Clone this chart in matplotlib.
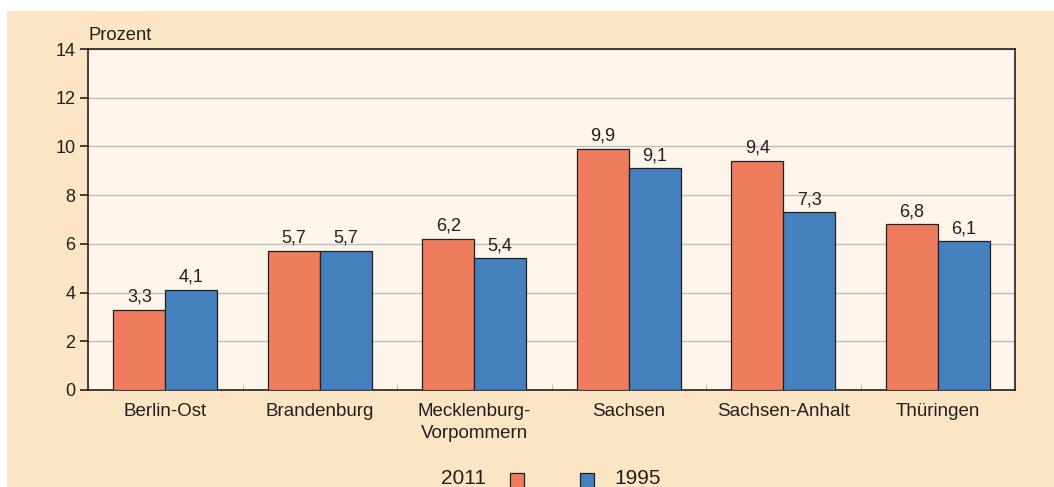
import matplotlib
matplotlib.use("Agg")
import matplotlib.pyplot as plt
import numpy as np
from matplotlib.patches import Rectangle

categories = ["Berlin-Ost", "Brandenburg", "Mecklenburg-\nVorpommern", "Sachsen", "Sachsen-Anhalt", "Thüringen"]
values_2011 = [3.3, 5.7, 6.2, 9.9, 9.4, 6.8]
values_1995 = [4.1, 5.7, 5.4, 9.1, 7.3, 6.1]
yticks = [0, 2, 4, 6, 8, 10, 12, 14]

c2011 = "#ef7d5d"
c1995 = "#4480be"
bg_outer = "#fbe5c5"
bg_plot = "#fdf5ea"
txt = "#231f20"

plt.rcParams['font.family'] = ['Liberation Sans', 'DejaVu Sans']

fig = plt.figure(figsize=(10.54, 4.87), dpi=100)
fig.patch.set_facecolor("white")
fig.add_artist(Rectangle((7/1054, 0), 1 - 7/1054, 1 - 11/487, transform=fig.transFigure,
                         facecolor=bg_outer, edgecolor="none", zorder=-10))

W, H = 1054, 487
left, right, top, bottom = 88, 1015, 49, 390
ax = fig.add_axes([left / W, 1 - bottom / H, (right - left) / W, (bottom - top) / H])
ax.set_facecolor(bg_plot)

x = np.arange(len(categories))
bw = 0.335
b1 = ax.bar(x - bw / 2, values_2011, bw, color=c2011, edgecolor=txt, linewidth=0.9, zorder=3)
b2 = ax.bar(x + bw / 2, values_1995, bw, color=c1995, edgecolor=txt, linewidth=0.9, zorder=3)

for bars, vals in ((b1, values_2011), (b2, values_1995)):
    for r, v in zip(bars, vals):
        ax.annotate(f"{v:.1f}".replace(".", ","), (r.get_x() + r.get_width() / 2, v),
                    xytext=(0, 3), textcoords="offset points",
                    ha="center", va="bottom", fontsize=13, color=txt)

ax.set_xlim(-0.5, len(categories) - 0.5)
ax.set_ylim(0, 14)
ax.set_yticks(yticks)
ax.set_yticklabels([str(t) for t in yticks], fontsize=13, color=txt)
ax.yaxis.grid(True, color="#bdbdc2", linewidth=1, zorder=0)
ax.set_axisbelow(True)
ax.tick_params(axis="y", length=6, width=1.2, color=txt, direction="out", pad=3)

ax.set_xticks(x)
ax.set_xticklabels(categories, fontsize=13.5, color=txt, linespacing=1.38)
ax.tick_params(axis="x", length=0, pad=9.5)
ax.set_xticks(np.arange(len(categories) + 1) - 0.5, minor=True)
ax.tick_params(axis="x", which="minor", length=4, direction="in", color="#b0b0b0")

for s in ax.spines.values():
    s.set_color(txt)
    s.set_linewidth(1.2)

ax.text(0, 1.015, "Prozent", transform=ax.transAxes, fontsize=13.2, color=txt,
        ha="left", va="bottom")

# legend
fig.text(463 / W, 1 - 478 / H, "2011", fontsize=15, color=txt, ha="center", va="center")
fig.add_artist(Rectangle((510 / W, 1 - 488 / H), 14 / W, 15 / H, transform=fig.transFigure,
                         facecolor=c2011, edgecolor=txt, linewidth=0.9))
fig.add_artist(Rectangle((580 / W, 1 - 488 / H), 14 / W, 15 / H, transform=fig.transFigure,
                         facecolor=c1995, edgecolor=txt, linewidth=0.9))
fig.text(638 / W, 1 - 478 / H, "1995", fontsize=15, color=txt, ha="center", va="center")

fig.savefig("out.png", dpi=100, facecolor=fig.get_facecolor())
